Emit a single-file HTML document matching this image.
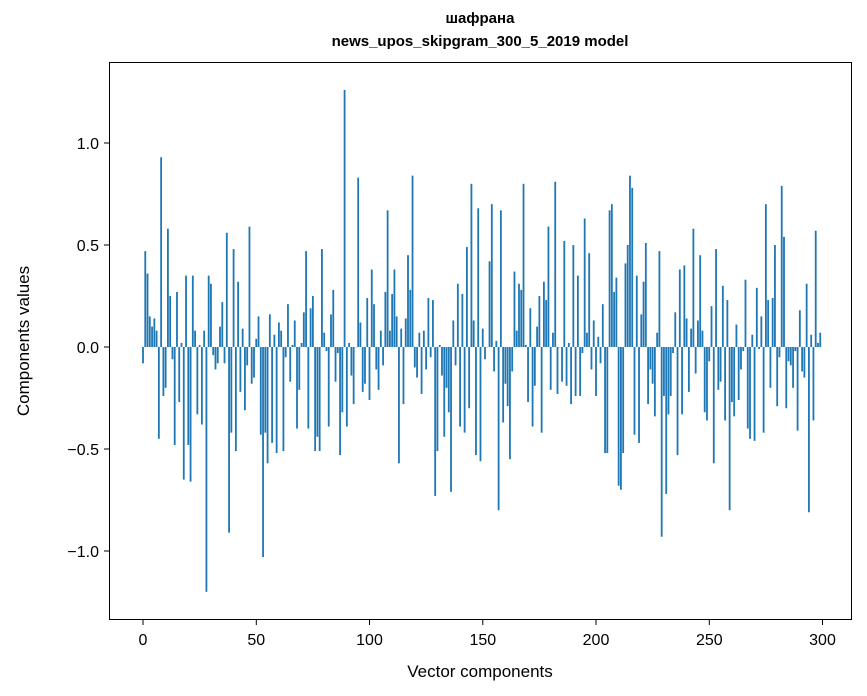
<!DOCTYPE html>
<html><head><meta charset="utf-8"><style>
body{margin:0;background:#fff;}
svg{display:block;font-family:"Liberation Sans","DejaVu Sans",sans-serif;}
</style></head><body>
<svg id="s" width="867" height="696" xmlns="http://www.w3.org/2000/svg">
<rect width="867" height="696" fill="#fff"/>
<g id="bars" fill="#1f77b4"></g>
<rect x="109.5" y="62.5" width="742" height="557" fill="none" stroke="#000" stroke-width="1"/>
<g stroke="#000" stroke-width="1">
<line x1="143" y1="620" x2="143" y2="625"/><line x1="256.3" y1="620" x2="256.3" y2="625"/><line x1="369.5" y1="620" x2="369.5" y2="625"/><line x1="482.8" y1="620" x2="482.8" y2="625"/><line x1="596" y1="620" x2="596" y2="625"/><line x1="709.3" y1="620" x2="709.3" y2="625"/><line x1="822.5" y1="620" x2="822.5" y2="625"/>
<line x1="104" y1="143" x2="109" y2="143"/><line x1="104" y1="245" x2="109" y2="245"/><line x1="104" y1="347" x2="109" y2="347"/><line x1="104" y1="449" x2="109" y2="449"/><line x1="104" y1="551" x2="109" y2="551"/>
</g>
<g font-size="16" fill="#000" text-anchor="middle">
<text x="143" y="645">0</text><text x="256.3" y="645">50</text><text x="369.5" y="645">100</text><text x="482.8" y="645">150</text><text x="596" y="645">200</text><text x="709.3" y="645">250</text><text x="822.5" y="645">300</text>
</g>
<g font-size="16" fill="#000" text-anchor="end">
<text x="99" y="149">1.0</text><text x="99" y="251">0.5</text><text x="99" y="353">0.0</text><text x="99" y="455">−0.5</text><text x="99" y="557">−1.0</text>
</g>
<text x="480" y="677" font-size="17" text-anchor="middle">Vector components</text>
<text transform="translate(29,341) rotate(-90)" font-size="17" text-anchor="middle">Components values</text>
<text x="480" y="28" font-size="15" font-weight="bold" text-anchor="middle" dy="-5">шафрана</text>
<text x="480" y="51" font-size="15" font-weight="bold" text-anchor="middle" dy="-5">news_upos_skipgram_300_5_2019 model</text>
</svg>
<script>
var v=[-0.08,0.47,0.36,0.15,0.1,0.14,0.08,-0.45,0.93,-0.24,-0.2,0.58,0.25,-0.06,-0.48,0.27,-0.27,0.02,-0.65,0.35,-0.48,-0.66,0.35,0.08,-0.33,0.01,-0.38,0.08,-1.2,0.35,0.31,-0.04,-0.11,-0.08,0.1,0.22,-0.08,0.56,-0.91,-0.42,0.48,-0.51,0.32,-0.22,0.09,-0.31,-0.09,0.59,-0.18,-0.15,
0.04,0.15,-0.43,-1.03,-0.42,-0.57,0.16,-0.47,0.06,-0.52,0.12,0.08,-0.51,-0.05,0.21,-0.17,0.01,0.13,-0.40,-0.21,0.02,0.17,0.47,-0.40,0.19,0.25,-0.51,-0.44,-0.51,0.48,0.07,-0.02,-0.39,0.16,0.28,-0.17,-0.03,-0.53,-0.32,1.26,-0.39,0.02,-0.14,-0.28,0.0,0.83,0.12,-0.22,-0.18,0.24,
-0.26,0.38,0.21,-0.11,-0.21,0.08,-0.09,0.27,0.67,0.08,0.26,0.38,0.15,-0.57,0.09,-0.28,0.14,0.45,0.28,0.84,-0.10,-0.15,0.07,-0.23,0.08,-0.11,0.24,-0.05,0.23,-0.73,-0.51,0.01,-0.14,-0.44,-0.20,-0.32,-0.71,0.13,-0.09,0.31,-0.39,0.26,-0.42,0.49,-0.30,0.8,0.13,-0.53,0.68,-0.56,
0.09,-0.06,0.0,0.42,0.7,-0.12,0.03,-0.80,0.67,-0.37,-0.18,-0.29,-0.55,-0.12,0.37,0.08,0.31,0.28,0.80,0.01,-0.27,0.19,-0.39,-0.19,0.1,0.25,-0.42,0.32,0.23,0.59,-0.21,0.07,0.81,-0.23,0.0,-0.17,0.52,-0.19,0.02,-0.28,0.50,-0.24,0.35,-0.24,-0.03,0.63,0.07,0.46,-0.11,0.13,
-0.24,0.05,-0.08,0.21,-0.52,-0.52,0.67,0.70,0.27,0.34,-0.68,-0.70,-0.52,0.41,0.5,0.84,0.78,-0.43,0.35,-0.47,0.16,0.32,0.51,-0.28,-0.11,-0.18,-0.34,0.07,0.47,-0.93,-0.24,-0.72,-0.33,-0.24,-0.03,0.17,-0.53,0.38,-0.33,0.40,0.14,-0.22,0.09,0.58,-0.13,0.13,0.45,0.08,-0.32,-0.36,
-0.07,0.2,-0.57,0.48,-0.21,-0.17,0.30,-0.36,0.23,-0.80,-0.27,-0.34,0.11,-0.26,-0.11,-0.02,0.33,-0.40,-0.45,0.06,-0.46,0.29,-0.01,0.15,-0.42,0.70,0.23,-0.20,0.24,0.50,-0.29,-0.05,0.79,0.54,-0.30,-0.07,-0.09,-0.20,-0.02,-0.41,0.18,-0.12,-0.15,0.31,-0.81,0.06,-0.36,0.57,0.02,0.07];
var g=document.getElementById('bars'),h='';
for(var i=0;i<v.length;i++){var x=143+2.265*i-0.906,y0=347,y=347-204*v[i];
h+='<rect x="'+x.toFixed(2)+'" y="'+Math.min(y,y0).toFixed(2)+'" width="1.81" height="'+Math.max(Math.abs(y-y0),0.3).toFixed(2)+'"/>';}
g.innerHTML=h;
</script>
</body></html>
